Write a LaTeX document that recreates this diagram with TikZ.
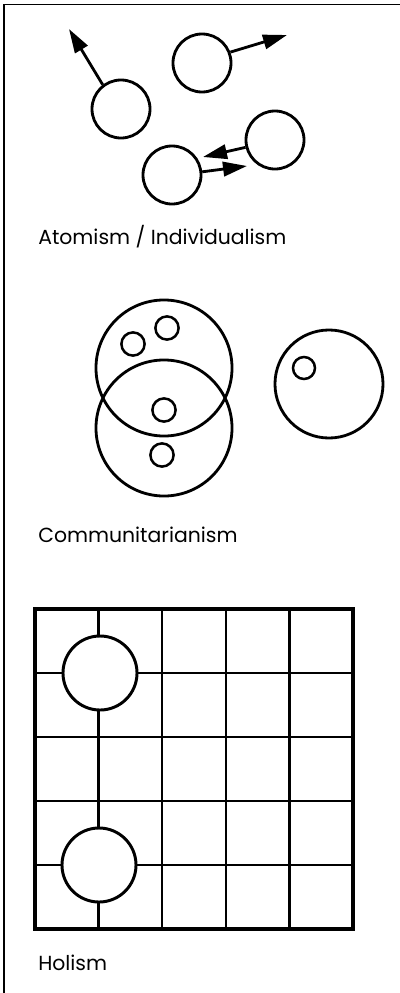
\documentclass[tikz,border=0pt]{standalone}
\usepackage{fontspec}
\setmainfont{Poppins}
\usetikzlibrary{arrows.meta}

\begin{document}
\begin{tikzpicture}[
    x=0.025cm, y=-0.025cm,
    % Shape styles
    atom/.style={circle, draw, line width=2pt, minimum size=1.45cm, inner sep=0pt},
    group/.style={circle, draw, line width=2pt, minimum size=3.4cm, inner sep=0pt},
    member/.style={circle, draw, line width=1.8pt, minimum size=0.58cm, inner sep=0pt},
    part/.style={circle, draw, fill=white, line width=2.1pt, minimum size=1.85cm, inner sep=0pt},
    % Other styles
    move/.style={-{Triangle[length=0.6cm, width=0.36cm]}, line width=2pt},
    caption/.style={font=\fontsize{14.5}{17}\selectfont, anchor=base west, inner sep=0pt}
]
\useasboundingbox (0,0) rectangle (400,993);
\draw[line width=1pt] (400,4.5) -- (4,4.5) -- (4,993);

% --- ATOMISM ---
\node[atom] (a1) at (121,109) {};
\node[atom] (a2) at (202,63) {};
\node[atom] (a3) at (275,140) {};
\node[atom] (a4) at (172,175) {};
\coordinate (d1) at (69,29);
\coordinate (d2) at (287,35);
\coordinate (d3) at (203,157);
\coordinate (d4) at (247,166);
\draw[move] (a1.127) -- (d1);
\draw[move] (a2.21) -- (d2);
\draw[move] (a3.194) -- (d3);
\draw[move] (a4.6) -- (d4);
\node[caption] (atomism) at (38,244) {Atomism / Individualism};

% --- COMMUNITARIANISM ---
\node[group] (upper) at (164,368) {};
\node[group] (lower) at (164,428) {};
\node[group, minimum size=2.7cm] (single) at (329,384) {};
\node[member] (m1) at (133,344) {};
\node[member] (m2) at (167,328) {};
\node[member] (m3) at (164,410) {};
\node[member] (m4) at (162,455) {};
\node[member, minimum size=0.55cm] (m5) at (304,368) {};
\node[caption] (communitarianism) at (38,542) {Communitarianism};

% --- HOLISM ---
\foreach \i in {1,...,4} {
  \draw[line width=1.8pt] ({35+\i*63.6},609) -- ({35+\i*63.6},929);
  \draw[line width=1.8pt] (35,{609+\i*64}) -- (353,{609+\i*64});
}
\draw[line width=2.4pt] (35,609) rectangle (353,929);
\node[part] (p1) at (100,673) {};
\node[part] (p2) at (99,865) {};
\node[caption] (holism) at (38,970) {Holism};

\end{tikzpicture}
\end{document}
